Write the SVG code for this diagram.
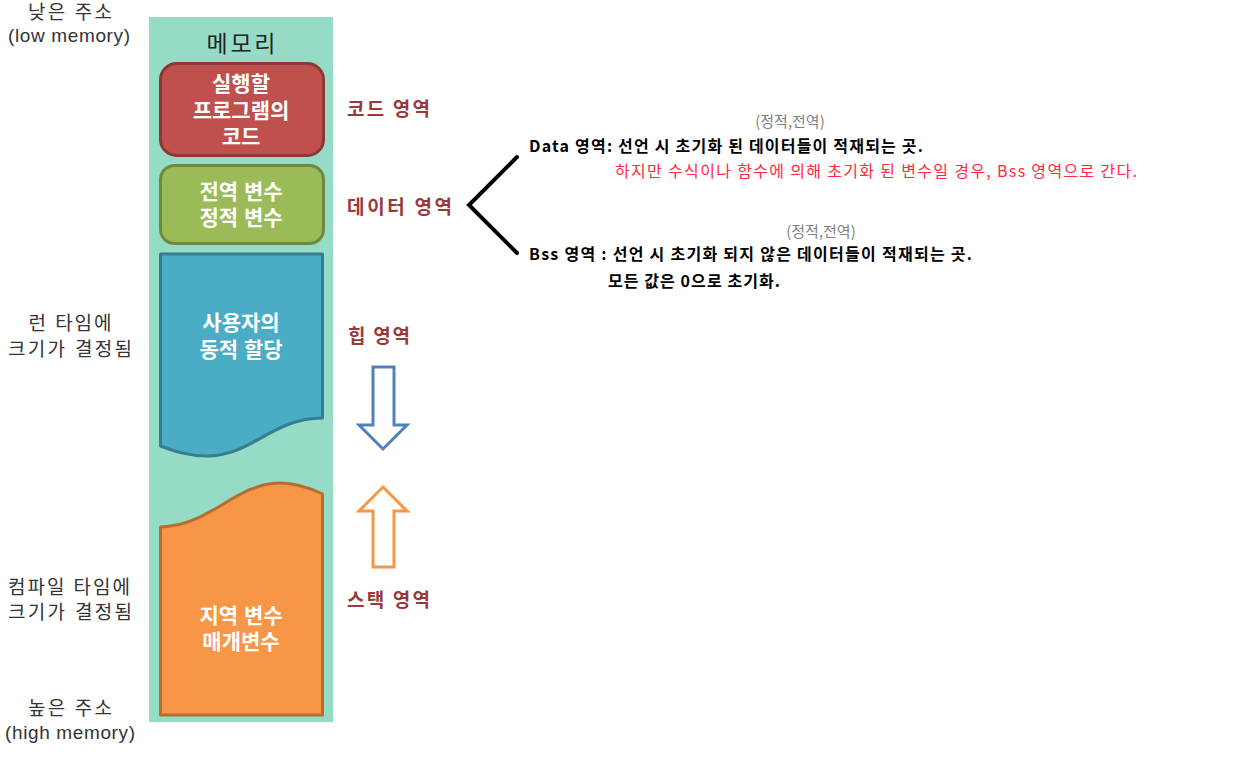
<svg xmlns="http://www.w3.org/2000/svg" width="1242" height="759" viewBox="0 0 1242 759">
<style>
.t{font-family:"Noto Sans CJK KR","Noto Sans",sans-serif;dominant-baseline:central}
.k{font-family:"Liberation Sans","Noto Sans CJK KR",sans-serif;dominant-baseline:central}
.side{font-size:19px;fill:#333;text-anchor:middle}
.box{font-size:21px;font-weight:bold;fill:#fff;text-anchor:middle}
.lbl{font-size:19px;font-weight:bold;fill:#983a3a}
.desc{font-size:16px;font-weight:bold;fill:#000}
.red{font-size:16px;fill:#ff2a3c}
.gray{font-size:15px;fill:#7f7f7f;text-anchor:middle}
</style>
<rect width="1242" height="759" fill="#fff"/>
<g id="side-labels">
<text class="k side" x="70" y="12" textLength="84">낮은 주소</text>
<text class="k side" x="69" y="35" textLength="122">(low memory)</text>
<text class="k side" x="70" y="323" textLength="83">런 타임에</text>
<text class="k side" x="70" y="349" textLength="124">크기가 결정됨</text>
<text class="k side" x="69" y="587" textLength="122">컴파일 타임에</text>
<text class="k side" x="70" y="612" textLength="124">크기가 결정됨</text>
<text class="k side" x="70" y="708" textLength="84">높은 주소</text>
<text class="k side" x="70" y="732" textLength="130">(high memory)</text>
</g>
<g id="memory">
<rect x="149" y="17" width="184" height="705" fill="#96dbc6"/>
<text class="t" x="241" y="42" font-size="23" fill="#222" text-anchor="middle" textLength="69">메모리</text>
</g>
<g id="code-box">
<rect x="160.5" y="63.5" width="163" height="92" rx="16" fill="#c0504d" stroke="#8c3836" stroke-width="3"/>
<text class="k box" x="241" y="83">실행할</text>
<text class="k box" x="241" y="110">프로그램의</text>
<text class="k box" x="241" y="136">코드</text>
</g>
<g id="data-box">
<rect x="160.5" y="165.5" width="163" height="78" rx="14" fill="#9bbb59" stroke="#71893f" stroke-width="3"/>
<text class="k box" x="241" y="191">전역 변수</text>
<text class="k box" x="241" y="217">정적 변수</text>
</g>
<g id="heap-box">
<path d="M160.5,254 L322.5,254 L322.5,418 C272,418 252,456 207,456 C188,456 174,451 160.5,446 Z" fill="#4bacc6" stroke="#357d91" stroke-width="3" stroke-linejoin="round"/>
<text class="k box" x="241" y="322">사용자의</text>
<text class="k box" x="241" y="349">동적 할당</text>
</g>
<g id="stack-box">
<path d="M160.5,527 C210,526 236,483 280,483 C298,483 312,489 322.5,494 L322.5,715 L160.5,715 Z" fill="#f79646" stroke="#b66d31" stroke-width="3" stroke-linejoin="round"/>
<text class="k box" x="241" y="615">지역 변수</text>
<text class="k box" x="241" y="641">매개변수</text>
</g>
<g id="region-labels">
<text class="t lbl" x="347" y="107" textLength="83">코드 영역</text>
<text class="t lbl" x="347" y="205" textLength="105">데이터 영역</text>
<text class="t lbl" x="348" y="334" textLength="62">힙 영역</text>
<text class="t lbl" x="347" y="598" textLength="83">스택 영역</text>
</g>
<g id="connectors">
<polygon points="373,367 394,367 394,425 407,425 383,449 359,425 373,425" fill="#fff" stroke="#4f81bd" stroke-width="3" stroke-linejoin="miter"/>
<polygon points="383,487 407,511 394,511 394,567 373,567 373,511 359,511" fill="#fff" stroke="#f79646" stroke-width="3" stroke-linejoin="miter"/>
<polyline points="517,157 469,205 517,253" fill="none" stroke="#000" stroke-width="4" stroke-linecap="round" stroke-linejoin="miter"/>
</g>
<g id="data-desc">
<text class="t gray" x="790" y="120">(정적,전역)</text>
<text class="t desc" x="529" y="145" textLength="394">Data 영역: 선언 시 초기화 된 데이터들이 적재되는 곳.</text>
<text class="t red" x="615" y="170" textLength="522">하지만 수식이나 함수에 의해 초기화 된 변수일 경우, Bss 영역으로 간다.</text>
</g>
<g id="bss-desc">
<text class="t gray" x="821" y="230">(정적,전역)</text>
<text class="t desc" x="529" y="253" textLength="443">Bss 영역 : 선언 시 초기화 되지 않은 데이터들이 적재되는 곳.</text>
<text class="t desc" x="608" y="280" textLength="172">모든 값은 0으로 초기화.</text>
</g>
</svg>
